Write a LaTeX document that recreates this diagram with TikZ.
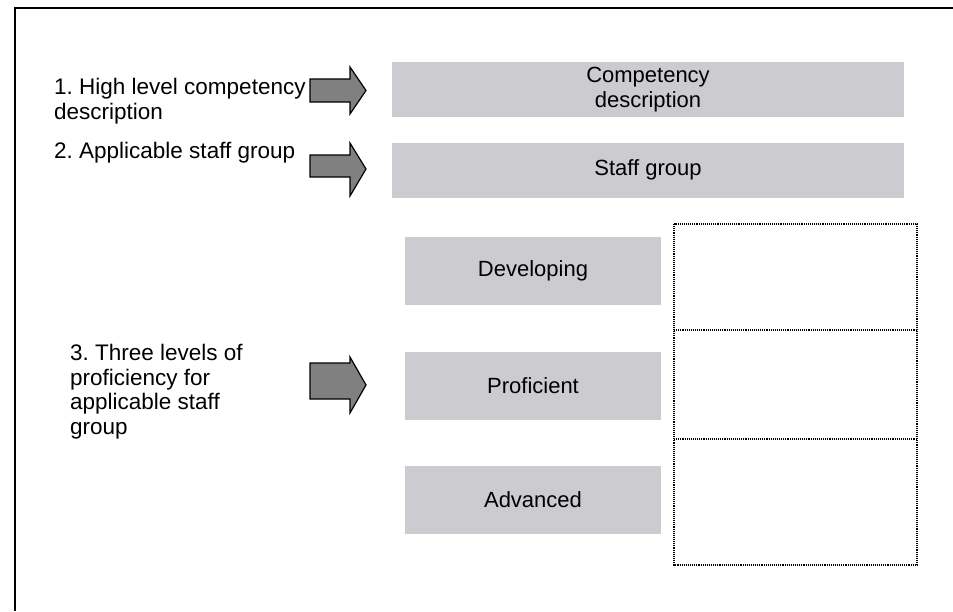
\documentclass[tikz,border=0pt]{standalone}
\usepackage{fontspec}
\setsansfont{Liberation Sans}
\frenchspacing
\definecolor{boxgrey}{RGB}{204,204,208}
\definecolor{arrowgrey}{RGB}{128,128,128}
\tikzset{
  wide/.style={fill=boxgrey,minimum width=512pt,minimum height=55pt,inner sep=0pt,align=center},
  level/.style={fill=boxgrey,minimum width=256pt,minimum height=68pt,inner sep=0pt},
  grid/.style={line width=1.1pt,dash pattern=on 1.1pt off 1pt},
  note/.style={anchor=base west,align=left,inner sep=0pt,font=\sffamily\fontsize{22.5}{24.5}\selectfont},
  blockarrow/.style={draw,fill=arrowgrey,line width=1.2pt,line join=miter}
}
\begin{document}
\begin{tikzpicture}[x=1pt,y=-1pt,font=\sffamily\fontsize{22}{24.5}\selectfont]
\useasboundingbox (0,0) rectangle (953,611);
\draw [line width=2pt] (15,611) -- (15,8) -- (953,8);
\node [note] (t1) at (54,119) {1. High level competency\\description};
\node [note] (t2) at (54,158) {2. Applicable staff group};
\node [note] (t3) at (70,434) {3. Three levels of\\proficiency for\\applicable staff\\group};
\draw [blockarrow] (310,79) -- (350,79) -- (350,67) -- (366,90.5) -- (350,114) -- (350,102) -- (310,102) -- cycle;
\draw [blockarrow] (310,155) -- (350,155) -- (350,143) -- (366,169) -- (350,196) -- (350,177) -- (310,177) -- cycle;
\draw [blockarrow] (310,363) -- (350,363) -- (350,357) -- (366,385) -- (350,413) -- (350,399) -- (310,399) -- cycle;
\node [wide] (comp) at (648,89.5) {Competency\\description};
\node [wide] (staff) at (648,170) {Staff group};
\node [level] (dev) at (533,271) {Developing};
\node [level] (prof) at (533,386) {Proficient};
\node [level] (adv) at (533,500) {Advanced};
\coordinate (tl) at (674,224);
\coordinate (br) at (917,565);
\draw [grid] (tl) rectangle (br);
\draw [grid] (tl |- 0,330) -- (br |- 0,330);
\draw [grid] (tl |- 0,439) -- (br |- 0,439);
\end{tikzpicture}
\end{document}
